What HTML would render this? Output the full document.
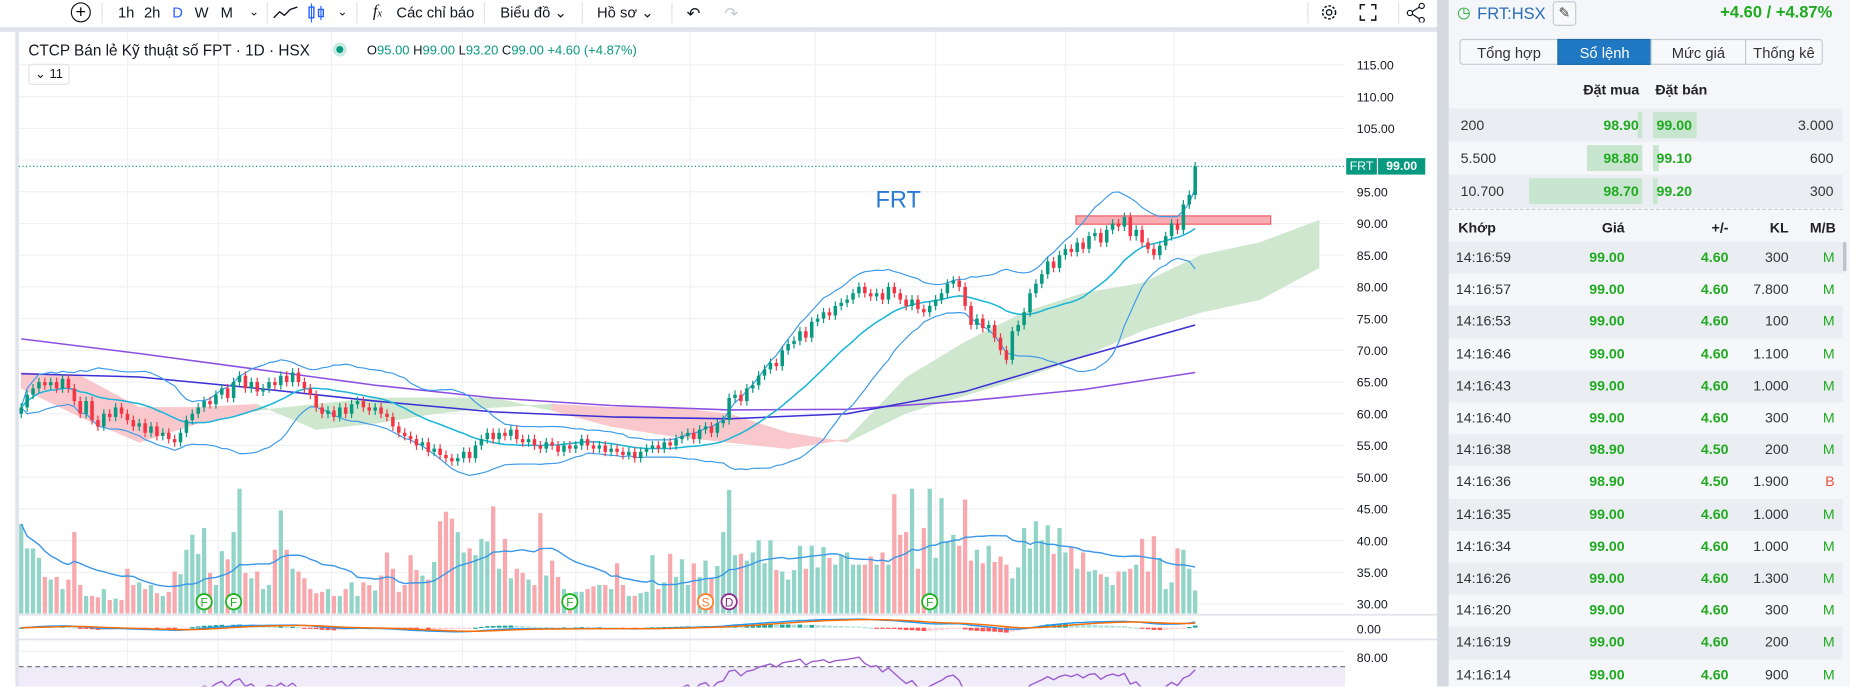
<!DOCTYPE html>
<html><head><meta charset="utf-8">
<style>
html,body{margin:0;padding:0;width:1850px;height:687px;overflow:hidden;background:#fff;font-family:"Liberation Sans","Noto Sans CJK SC",sans-serif;}
#root{position:absolute;left:0;top:0;width:1568px;height:582px;transform:scale(1.17985);transform-origin:0 0;background:#fff;overflow:hidden;}
.abs{position:absolute;}
.tb{position:absolute;top:3px;font-size:12.5px;color:#131722;line-height:16px;}
.sep{position:absolute;top:2px;width:1px;height:18px;background:#e0e3eb;}
.tab{position:absolute;top:33px;height:22px;line-height:22px;text-align:center;font-size:12.5px;color:#333;border:1px solid #c5cbd3;background:#f7f8fa;box-sizing:border-box;}
</style></head>
<body>
<div id="root">
  <div class="abs" style="left:0;top:0;width:13px;height:582px;background:#fff;"></div>
  <div class="abs" style="left:13px;top:25px;width:3px;height:557px;background:#e0e3eb;"></div>
  <div class="abs" style="left:0;top:0;width:1220px;height:25px;background:#fff;"></div>
  <div class="abs" style="left:0;top:23px;width:1220px;height:4px;background:#e0e3eb;"></div>
  <div class="abs" style="left:60px;top:2px;width:15px;height:15px;border:1.3px solid #131722;border-radius:50%;text-align:center;line-height:15px;font-size:15px;">+</div>
  <div class="sep" style="left:86px"></div>
  <div class="tb" style="left:100px">1h</div>
  <div class="tb" style="left:122px">2h</div>
  <div class="tb" style="left:146px;color:#2962ff">D</div>
  <div class="tb" style="left:165px">W</div>
  <div class="tb" style="left:187px">M</div>
  <div class="tb" style="left:211px;font-size:10px">⌄</div>
  <div class="sep" style="left:226px"></div>
  <svg class="abs" style="left:231px;top:4px" width="22" height="14"><polyline points="1,11 6,6 10,9 15,4 21,2" fill="none" stroke="#131722" stroke-width="1.2"/></svg>
  <svg class="abs" style="left:260px;top:2px" width="16" height="18"><rect x="2" y="4" width="4" height="9" fill="none" stroke="#2962ff" stroke-width="1.2"/><line x1="4" y1="1" x2="4" y2="17" stroke="#2962ff"/><rect x="10" y="6" width="4" height="6" fill="none" stroke="#2962ff" stroke-width="1.2"/><line x1="12" y1="3" x2="12" y2="15" stroke="#2962ff"/></svg>
  <div class="tb" style="left:286px;font-size:10px">⌄</div>
  <div class="sep" style="left:302px"></div>
  <div class="tb" style="left:316px;font-style:italic;font-family:'Liberation Serif',serif;font-size:14px">f<span style="font-size:9px">x</span></div>
  <div class="tb" style="left:336px">Các chỉ báo</div>
  <div class="sep" style="left:410px"></div>
  <div class="tb" style="left:424px">Biểu đồ ⌄</div>
  <div class="sep" style="left:493px"></div>
  <div class="tb" style="left:506px">Hồ sơ ⌄</div>
  <div class="sep" style="left:569px"></div>
  <div class="tb" style="left:582px;font-size:14px">↶</div>
  <div class="tb" style="left:614px;font-size:14px;color:#c5c8d0">↷</div>
  <div class="sep" style="left:1108px"></div>
  <svg class="abs" style="left:1118px;top:2px" width="17" height="17"><circle cx="8.5" cy="8.5" r="5.5" fill="none" stroke="#131722" stroke-width="1.3" stroke-dasharray="2.2,1.4"/><circle cx="8.5" cy="8.5" r="2.3" fill="none" stroke="#131722" stroke-width="1.2"/></svg>
  <svg class="abs" style="left:1152px;top:3px" width="15" height="15"><path d="M1 5V1H5M10 1H14V5M14 10V14H10M5 14H1V10" fill="none" stroke="#131722" stroke-width="1.3"/></svg>
  <div class="sep" style="left:1185px"></div>
  <svg class="abs" style="left:1192px;top:2px" width="16" height="17"><circle cx="13" cy="3" r="2.2" fill="none" stroke="#131722"/><circle cx="3" cy="9" r="2.2" fill="none" stroke="#131722"/><circle cx="13" cy="15" r="2.2" fill="none" stroke="#131722"/><line x1="5" y1="8" x2="11" y2="4" stroke="#131722"/><line x1="5" y1="10" x2="11" y2="14" stroke="#131722"/></svg>

  <svg id="chart" class="abs" style="left:0;top:0" width="1218" height="582"></svg>

  <div class="abs" style="left:24px;top:35px;font-size:13px;color:#131722;white-space:nowrap">CTCP Bán lẻ Kỹ thuật số FPT · 1D · HSX</div>
  <div class="abs" style="left:282px;top:36px;width:12px;height:12px;border-radius:50%;background:#c9eae3"><div style="margin:3px;width:6px;height:6px;border-radius:50%;background:#089981"></div></div>
  <div class="abs" style="left:311px;top:37px;font-size:11px;color:#089981;white-space:nowrap"><span style="color:#131722">O</span>95.00 <span style="color:#131722">H</span>99.00 <span style="color:#131722">L</span>93.20 <span style="color:#131722">C</span>99.00 +4.60 (+4.87%)</div>
  <div class="abs" style="left:24px;top:54px;width:33px;height:16px;border:1px solid #e0e3eb;border-radius:3px;font-size:11px;line-height:16px;text-align:center;color:#131722">⌄ 11</div>
  <div class="abs" style="left:742px;top:159px;font-size:20px;color:#2a7bd4">FRT</div>
  <div class="abs" style="left:1141px;top:134px;width:26px;height:14px;background:#089981;color:#fff;font-size:10.5px;line-height:14px;text-align:center">FRT</div>
  <div class="abs" style="left:1168px;top:134px;width:40px;height:14px;background:#089981;color:#fff;font-size:10.5px;line-height:14px;text-align:center;font-weight:bold">99.00</div>

  <div class="abs" style="left:1218px;top:0;width:10px;height:582px;background:#d5d9e0"></div>

  <div class="abs" style="left:1228px;top:0;width:340px;height:582px;background:#f4f6f9"></div>
  <div class="abs" style="left:1235px;top:3px;font-size:13px;color:#1aaa2a">◷</div>
  <div class="abs" style="left:1252px;top:3px;font-size:14px;color:#2a6fb7">FRT:HSX</div>
  <div class="abs" style="left:1316px;top:1px;width:18px;height:19px;border:1px solid #c5cbd3;border-radius:3px;background:#f7f8fa;text-align:center;font-size:12px;line-height:19px;color:#444">✎</div>
  <div class="abs" style="left:1440px;top:2px;width:113px;text-align:right;font-size:14px;font-weight:bold;color:#1faa1f">+4.60 / +4.87%</div>
  <div class="tab" style="left:1237px;width:84px;border-radius:3px 0 0 3px">Tổng hợp</div>
  <div class="tab" style="left:1320px;width:80px;background:#1f78c1;color:#fff;border-color:#1a68a8">Sổ lệnh</div>
  <div class="tab" style="left:1399px;width:81px">Mức giá</div>
  <div class="tab" style="left:1479px;width:66px;border-radius:0 3px 3px 0">Thống kê</div>
  <div class="abs" style="left:1342px;top:69px;font-size:12px;font-weight:bold;color:#222">Đặt mua</div>
  <div class="abs" style="left:1403px;top:69px;font-size:12px;font-weight:bold;color:#222">Đặt bán</div>
  <div class="abs" style="left:1228px;top:177px;width:334px;border-top:1px dashed #c8cdd4"></div>
  <div class="abs" style="left:1236px;top:186px;font-size:12px;font-weight:bold;color:#222">Khớp</div>
  <div class="abs" style="left:1330px;width:47px;text-align:right;top:186px;font-size:12px;font-weight:bold;color:#222">Giá</div>
  <div class="abs" style="left:1420px;width:45px;text-align:right;top:186px;font-size:12px;font-weight:bold;color:#222">+/-</div>
  <div class="abs" style="left:1470px;width:46px;text-align:right;top:186px;font-size:12px;font-weight:bold;color:#222">KL</div>
  <div class="abs" style="left:1520px;width:36px;text-align:right;top:186px;font-size:12px;font-weight:bold;color:#222">M/B</div>
</div>

<script>
const closes = [
61,63,64,65,64.5,65,64,65.5,64,62,
60,62,59,58,60,59.5,61,60,59,58,
58.5,57,58,56.5,57,56,55.5,57,59,60,
61,62,61.5,63,64,62.5,65,66,64,65,
63.5,64,65,64.5,66,65,66.5,65,64,63,
61,60,60.5,59.5,61,60,61.5,62,61,60.5,
61,60,59.5,58,57,56.5,56,55,55.5,54,
54.5,53.5,53,52.5,53,54,53,55,56,57,
56,57,56.5,57.5,56,55.5,56,55,54.5,55.5,
55,54,55,54.5,55,56,55,54.5,55,54,
54.5,54,53.5,54,53,54,54.5,55,54.5,55.5,
55,56,56.5,57,56,57.5,58,57,58.5,59,
62.5,63,62,64,64.5,66,67,68,67.5,70,
71,71.5,73,72,74.5,75,76,75.5,77,77.5,
78,79,80,79,78.5,79,78,80,79,78,
77,78,76.5,76,77,78,79,80.5,81,80,
77,74,75,73.5,74,72,70,68.5,73,74,
76,79,80.5,82,84,83,85,86,85.5,87,
86,88,88.5,87,89,90,89.5,91,88,89,
87,86,85,86.5,88,90,89,93,94.5,99];
const volumes = [
66,48,48,41,27,25,27,18,25,60,
21,13,13,12,18,10,11,10,33,21,
23,18,21,15,13,16,31,29,47,58,
44,63,30,21,46,40,60,92,30,26,
31,18,21,47,76,47,33,31,26,18,
15,16,18,13,13,18,23,13,23,21,
17,28,45,33,16,21,43,32,28,25,
38,68,75,70,60,45,48,43,55,53,
79,33,55,26,33,30,25,21,74,28,
39,27,18,11,16,16,18,20,21,21,
18,37,21,13,13,15,16,43,18,23,
44,27,40,21,37,27,39,26,35,60,
91,43,44,39,45,54,37,54,32,31,
25,32,50,33,50,34,49,41,36,43,
45,36,36,36,42,36,45,36,88,58,
60,92,33,63,92,41,85,53,58,50,
84,39,47,37,50,38,42,36,26,34,
63,48,68,54,65,44,63,45,49,33,
45,31,32,29,27,21,31,31,33,36,
55,31,57,41,18,23,48,47,33,17];
const cloudIdx = [0,10,20,30,40,50,60,70,80,90,100,110,120,130,140,150,160,170,180,190,200,210,220];
const spanA = [64,59.5,55.5,58.5,60.5,61.5,62.5,62.5,62.5,60.5,58,56.5,55.5,54.5,56,65.7,71.3,76,79,80.6,85,87,90.5];
const spanB = [66.5,66,61,61,61.5,57.5,58.5,60,61,61.5,61,61,60,57,55.5,60.1,62.9,65.7,69,73.1,76,78,83];
const maIdx = [0,20,40,60,80,100,120,140,160,180,199];
const ma200 = [71.8,69.5,67,64.5,62.5,61.3,60.6,60.7,62,63.8,66.5];
const ma100 = [66.3,65.8,64,62,60.3,59.5,59.2,60,63.5,69,74];
const priceTicks = [115,110,105,95,90,85,80,75,70,65,60,55,50,45,40,35,30];
const markerIdx = [31,36,93,116,120,154];
const markerLabels = ['F','F','F','S','D','F'];
const markerColors = ['#1db11d','#1db11d','#1db11d','#ff7f2a','#8e2a8e','#1db11d'];

const NS='http://www.w3.org/2000/svg';
const svg=document.getElementById('chart');
function xI(i){return 18+i*5;}
function yP(p){return 55+(115-p)*5.376;}
function yV(v){return 520-v*1.15;}
function yM(m){return 532-m*1.5;}
function yR(r){return 565-(r-77)*0.9;}
function mk(tag,attrs,parent){const e=document.createElementNS(NS,tag);for(const k in attrs)e.setAttribute(k,attrs[k]);(parent||svg).appendChild(e);return e;}

const defs=mk('defs',{});
const cp=mk('clipPath',{id:'rsiclip'},defs);
mk('rect',{x:16,y:543,width:1124,height:39},cp);
const cpm=mk('clipPath',{id:'macdclip'},defs);
mk('rect',{x:16,y:522,width:1124,height:19},cpm);

const vgrid=[108,185,281,392,488,585,691,793,903,995];
vgrid.forEach(x=>{const l=mk('line',{x1:x,y1:27,x2:x,y2:582,stroke:'#f0f1f4','stroke-width':1});

});
priceTicks.concat([100]).forEach(p=>{const l=mk('line',{x1:16,y1:yP(p),x2:1140,y2:yP(p),stroke:'#f0f1f4','stroke-width':1});

});
priceTicks.forEach(p=>{const t=mk('text',{x:1150,y:yP(p)+4,'font-size':10.5,fill:'#131722','font-family':'Liberation Sans'});t.textContent=p.toFixed(2);

});

for(let k=0;k<cloudIdx.length-1;k++){
  const x1=xI(cloudIdx[k]),x2=xI(cloudIdx[k+1]);
  const g=(spanA[k]+spanA[k+1])>=(spanB[k]+spanB[k+1]);
  const p=mk('polygon',{points:`${x1},${yP(spanA[k])} ${x2},${yP(spanA[k+1])} ${x2},${yP(spanB[k+1])} ${x1},${yP(spanB[k])}`,fill:g?'#cfe7cf':'#f9c8cc',stroke:g?'#cfe7cf':'#f9c8cc','stroke-width':0.5});
  
  
}
const rr=mk('rect',{x:912,y:183,width:165,height:7,fill:'#f7adb3',stroke:'#ef5a64','stroke-width':1});



function sma(arr,n,i){let s=0,c=0;for(let j=Math.max(0,i-n+1);j<=i;j++){s+=arr[j];c++;}return s/c;}
function line(pts,color,w,name,clip){const a={points:pts.map(q=>q.join(',')).join(' '),fill:'none',stroke:color,'stroke-width':w,'stroke-linejoin':'round'};if(clip)a['clip-path']=clip;const p=mk('polyline',a);

return p;}

line(maIdx.map((ix,k)=>[xI(ix),yP(ma200[k])]),'#8c4fe0',1.3,'ma200-line');
line(maIdx.map((ix,k)=>[xI(ix),yP(ma100[k])]),'#3c2fd6',1.3,'ma100-line');

const mid=[],up=[],lo=[];
closes.forEach((c,i)=>{const m=sma(closes,20,i);let s=0,n=0;for(let j=Math.max(0,i-19);j<=i;j++){s+=(closes[j]-m)**2;n++;}const sd=Math.sqrt(s/n);mid.push([xI(i),yP(m)]);up.push([xI(i),yP(m+2*sd)]);lo.push([xI(i),yP(m-2*sd)]);});
line(up,'#3d9be9',1,'bollinger-upper');
line(lo,'#3d9be9',1,'bollinger-lower');
line(mid,'#1cb5d8',1.3,'bollinger-basis');

volumes.forEach((v,i)=>{const o=i?closes[i-1]:closes[0]-1;const g=closes[i]>=o;
const r=mk('rect',{x:xI(i)-1.8,y:yV(v),width:3.6,height:520-yV(v),fill:g?'#92d5c8':'#f7a9ae'});

});
line(volumes.map((v,i)=>[xI(i),yV(sma(volumes,20,i))]),'#3b97e8',1.2,'volume-ma-line');

closes.forEach((c,i)=>{const o=i?closes[i-1]:closes[0]-1;const g=c>=o;const col=g?'#089981':'#f23645';
const hi=Math.max(o,c)+0.7,lw=Math.min(o,c)-0.7;
const w=mk('line',{x1:xI(i),y1:yP(hi),x2:xI(i),y2:yP(lw),stroke:col,'stroke-width':1});


const top=yP(Math.max(o,c)),h=Math.max(1,Math.abs(yP(o)-yP(c)));
const b=mk('rect',{x:xI(i)-1.5,y:top,width:3,height:h,fill:col});

});

const dl=mk('line',{x1:16,y1:yP(99),x2:1141,y2:yP(99),stroke:'#089981','stroke-width':1,'stroke-dasharray':'1,2'});



markerIdx.forEach((ix,k)=>{const cx=xI(ix);
const c=mk('circle',{cx:cx,cy:510,r:6.5,fill:'#fff',stroke:markerColors[k],'stroke-width':1.5});


const t=mk('text',{x:cx,y:514,'text-anchor':'middle','font-size':10,fill:markerColors[k],'font-family':'Liberation Sans'});t.textContent=markerLabels[k];

});

[521,542].forEach(y=>{const l=mk('line',{x1:16,y1:y,x2:1218,y2:y,stroke:'#e0e3eb','stroke-width':1.5});

});

function ema(arr,n){const k=2/(n+1);const out=[];arr.forEach((v,i)=>out.push(i?v*k+out[i-1]*(1-k):v));return out;}
const e12=ema(closes,12),e26=ema(closes,26);
const macd=e12.map((v,i)=>v-e26[i]);const sig=ema(macd,9);
macd.forEach((m,i)=>{const hv=m-sig[i];const prev=i?macd[i-1]-sig[i-1]:hv;
const col=hv>=0?(hv>=prev?'#26a69a':'#b2dfdb'):(hv<prev?'#ff5252':'#ffcdd2');
const y1=yM(0),y2=yM(hv*2);
const r=mk('rect',{x:xI(i)-2,y:Math.min(y1,y2),width:4,height:Math.max(1,Math.abs(y2-y1)),fill:col,'clip-path':'url(#macdclip)'});

});
line(macd.map((m,i)=>[xI(i),yM(m)]),'#2196f3',1.2,'macd-line','url(#macdclip)');
line(sig.map((m,i)=>[xI(i),yM(m)]),'#ff6d00',1.2,'macd-signal-line','url(#macdclip)');
const mz=mk('text',{x:1150,y:537,'font-size':10.5,fill:'#131722','font-family':'Liberation Sans'});mz.textContent='0.00';



const rb=mk('rect',{x:16,y:565,width:1124,height:17,fill:'#f0ebf8'});


const rg=mk('line',{x1:16,y1:552,x2:1140,y2:552,stroke:'#f0f1f4'});


const rdl=mk('line',{x1:16,y1:565,x2:1140,y2:565,stroke:'#787b86','stroke-dasharray':'4,3','stroke-width':1});


let ag=0,al=0;
for(let i=1;i<=14;i++){const d=closes[i]-closes[i-1];ag+=Math.max(d,0)/14;al+=Math.max(-d,0)/14;}
const rsi=[];
closes.forEach((c,i)=>{if(i>14){const d=c-closes[i-1];ag=(ag*13+Math.max(d,0))/14;al=(al*13+Math.max(-d,0))/14;}
rsi.push(al===0?100:100-100/(1+ag/al));});
line(rsi.map((r,i)=>[xI(i),yR(r)]),'#9c5ed0',1.2,'rsi-line','url(#rsiclip)');
const r80=mk('text',{x:1150,y:561,'font-size':10.5,fill:'#131722','font-family':'Liberation Sans'});r80.textContent='80.00';



const root=document.getElementById('root');
const bookQtyBid=['200','5.500','10.700'];
const bookBid=['98.90','98.80','98.70'];
const bookAsk=['99.00','99.10','99.20'];
const bookQtyAsk=['3.000','600','300'];
const bidBarW=[4,47,96];
const askBarW=[37,5,4];
function div(style,text){const d=document.createElement('div');d.className='abs';d.style.cssText=style;if(text!==undefined)d.textContent=text;root.appendChild(d);return d;}
for(let k=0;k<3;k++){
  const top=92+k*28;
  const row=div(`left:1228px;top:${top}px;width:334px;height:28px;background:${k%2?'#f5f7fa':'#eaeef2'}`);
  
  
  const bb=div(`left:${1392-bidBarW[k]}px;top:${top+3}px;width:${bidBarW[k]}px;height:22px;background:#c8e6cf`);
  
  
  const ab=div(`left:1401px;top:${top+3}px;width:${askBarW[k]}px;height:22px;background:#c8e6cf`);
  
  
  const q=div(`left:1238px;top:${top+7}px;font-size:12px;color:#333`,bookQtyBid[k]);
  
  
  const b=div(`left:1340px;width:49px;text-align:right;top:${top+7}px;font-size:12px;font-weight:bold;color:#1faa1f`,bookBid[k]);
  
  
  const a=div(`left:1404px;top:${top+7}px;font-size:12px;font-weight:bold;color:#1faa1f`,bookAsk[k]);
  
  
  const qa=div(`left:1500px;width:54px;text-align:right;top:${top+7}px;font-size:12px;color:#333`,bookQtyAsk[k]);
  
  
}
const tTimes=['14:16:59','14:16:57','14:16:53','14:16:46','14:16:43','14:16:40','14:16:38','14:16:36','14:16:35','14:16:34','14:16:26','14:16:20','14:16:19','14:16:14'];
const tPrice=['99.00','99.00','99.00','99.00','99.00','99.00','98.90','98.90','99.00','99.00','99.00','99.00','99.00','99.00'];
const tChg=['4.60','4.60','4.60','4.60','4.60','4.60','4.50','4.50','4.60','4.60','4.60','4.60','4.60','4.60'];
const tVol=['300','7.800','100','1.100','1.000','300','200','1.900','1.000','1.000','1.300','300','200','900'];
const tSide=['M','M','M','M','M','M','M','B','M','M','M','M','M','M'];
tTimes.forEach((t,k)=>{const top=205+k*27.2;const h=Math.min(27.2,582-top);
  const row=div(`left:1228px;top:${top}px;width:334px;height:${h}px;overflow:hidden;background:${k%2?'#f5f7fa':'#eaeef2'}`);
  
  
  const a=div(`left:1234px;top:${top+7}px;font-size:12px;line-height:13px;color:#333`,t);
  
  
  const b=div(`left:1320px;width:57px;text-align:right;top:${top+7}px;font-size:12px;line-height:13px;font-weight:bold;color:#1faa1f`,tPrice[k]);
  
  
  const c=div(`left:1410px;width:55px;text-align:right;top:${top+7}px;font-size:12px;line-height:13px;font-weight:bold;color:#1faa1f`,tChg[k]);
  
  
  const d=div(`left:1460px;width:56px;text-align:right;top:${top+7}px;font-size:12px;line-height:13px;color:#333`,tVol[k]);
  
  
  const e=div(`left:1530px;width:25px;text-align:right;top:${top+7}px;font-size:12px;line-height:13px;color:${tSide[k]==='B'?'#f0503c':'#1faa1f'}`,tSide[k]);
  
  
});
const sb=div('left:1562px;top:205px;width:3px;height:25px;background:#c0c4ca;border-radius:2px');


</script>
</body></html>
